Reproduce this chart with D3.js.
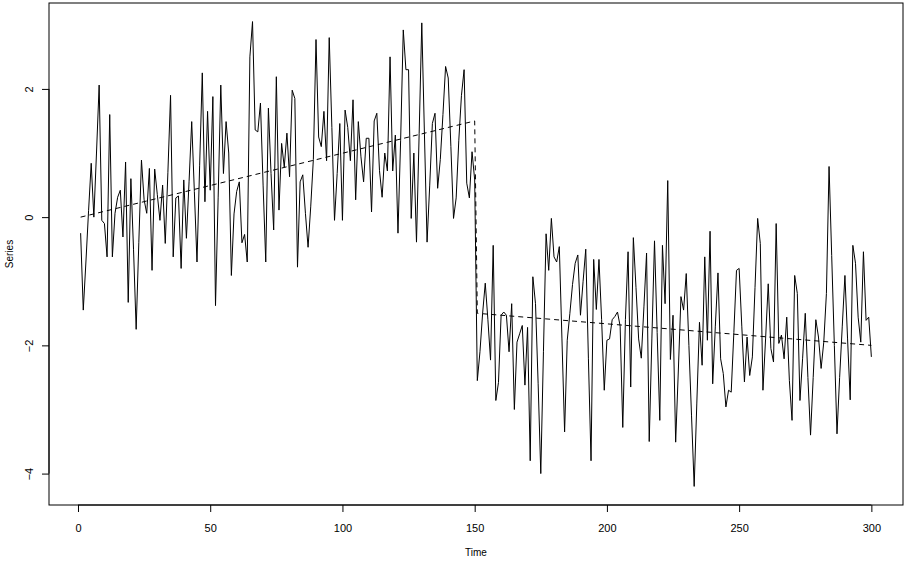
<!DOCTYPE html>
<html>
<head>
<meta charset="utf-8">
<script src="https://cdn.jsdelivr.net/npm/d3@7"></script>
<style>
  body { margin: 0; background: #fff; }
  svg { display: block; font-family: "Liberation Sans", Arial, sans-serif; }
</style>
</head>
<body>
<div id="chart"></div>
<script>
// series values, time = 1..300
const seriesValues = [
  -0.25, -1.45, -0.7, 0.1, 0.84, 0.0, 1.0, 2.06, -0.05, -0.1,
  -0.62, 1.6, -0.62, 0.06, 0.31, 0.42, -0.31, 0.86, -1.33, 0.6,
  -0.5, -1.75, -0.4, 0.89, 0.27, 0.06, 0.76, -0.83, 0.75, 0.35,
  -0.05, 0.5, -0.41, 0.7, 1.9, -0.62, 0.3, 0.33, -0.8, 0.58,
  -0.33, 0.55, 1.49, 0.4, -0.7, 0.8, 2.25, 0.24, 1.65, 0.42,
  1.88, -1.38, 0.3, 2.06, 0.68, 1.49, 1.0, -0.91, 0.05, 0.4,
  0.55, -0.4, -0.27, -0.7, 2.5, 3.05, 1.36, 1.33, 1.78, 0.5,
  -0.7, 1.7, 0.68, -0.2, 2.19, 0.11, 1.15, 0.78, 1.31, 0.63,
  1.98, 1.85, -0.78, 0.55, 0.66, 0.06, -0.47, 0.16, 0.9, 2.77,
  1.25, 1.1, 1.65, 0.88, 2.8, 1.4, -0.05, 0.68, 1.46, -0.05,
  1.67, 1.4, 0.88, 1.83, 0.27, 1.49, 0.94, 0.55, 1.23, 1.23,
  0.08, 1.5, 1.62, 0.73, 0.31, 1.0, 0.72, 2.5, 0.72, 1.28,
  -0.25, 1.2, 2.92, 2.3, 2.3, -0.02, 1.0, -0.39, 1.3, 3.03,
  1.3, -0.39, 0.5, 1.46, 1.62, 0.45, 0.9, 1.6, 2.35, 2.17,
  1.1, -0.02, 0.3, 1.2, 1.9, 2.3, 0.53, 0.3, 1.02, 0.58,
  -2.55, -2.1, -1.5, -1.03, -1.6, -2.23, -0.44, -2.86, -2.58, -1.53,
  -1.48, -1.53, -2.1, -1.35, -3.0, -1.95, -1.82, -1.69, -2.62, -1.72,
  -3.8, -0.93, -1.35, -2.6, -4.0, -2.1, -0.26, -0.83, -0.02, -0.62,
  -0.7, -0.46, -1.9, -3.35, -1.92, -1.5, -1.05, -0.72, -0.59, -1.53,
  -1.0, -0.5, -2.2, -3.8, -0.66, -1.44, -0.66, -1.6, -2.7, -1.92,
  -1.9, -1.6, -1.55, -1.48, -1.7, -3.28, -1.6, -0.54, -2.65, -0.32,
  -1.1, -1.9, -2.2, -1.4, -0.56, -3.5, -1.9, -0.37, -1.8, -3.17,
  -0.44, -1.35, 0.57, -2.22, -1.53, -3.51, -2.4, -1.24, -1.45, -0.88,
  -2.0, -3.1, -4.2, -2.9, -1.64, -2.31, -0.62, -1.92, -0.22, -2.6,
  -1.7, -0.87, -2.21, -2.44, -2.96, -2.7, -2.73, -1.8, -0.83, -0.8,
  -1.7, -2.57, -1.87, -2.47, -2.18, -1.1, -0.02, -0.41, -2.7, -1.9,
  -1.04, -2.05, -2.26, -0.1, -1.97, -1.84, -2.21, -1.56, -2.55, -3.17,
  -0.91, -1.19, -2.86, -2.2, -1.5, -2.5, -3.4, -2.5, -1.6, -1.87,
  -2.36, -1.95, -1.19, 0.79, -0.6, -2.0, -3.38, -2.5, -1.7, -0.91,
  -1.9, -2.85, -0.44, -0.72, -1.56, -1.95, -0.54, -1.61, -1.56, -2.18
];

// fitted trend (dashed): two linear pieces with a break after time 150
const trendTime = [1, 150, 151, 300];
const trendValue = [0.0, 1.5, -1.5, -2.0];

const xTicks = [0, 50, 100, 150, 200, 250, 300];
const yTicks = [-4, -2, 0, 2];

const W = 904, H = 563;
const box = { left: 49, right: 903, top: 3, bottom: 505 };

const series = seriesValues.map((v, i) => ({ t: i + 1, v }));
const trend = trendTime.map((t, i) => ({ t, v: trendValue[i] }));

// R style 4% range extension
const tExt = d3.extent(series, d => d.t);
const vExt = d3.extent(series, d => d.v);
const tPad = (tExt[1] - tExt[0]) * 0.04;
const vPad = (vExt[1] - vExt[0]) * 0.04;

const x = d3.scaleLinear()
  .domain([tExt[0] - tPad, tExt[1] + tPad])
  .range([box.left, box.right]);
const y = d3.scaleLinear()
  .domain([vExt[0] - vPad, vExt[1] + vPad])
  .range([box.bottom, box.top]);

const svg = d3.select('#chart').append('svg')
  .attr('width', W)
  .attr('height', H);

// X axis
const xAxis = svg.append('g')
  .attr('transform', `translate(0,${box.bottom})`)
  .call(d3.axisBottom(x).tickValues(xTicks).tickSize(7).tickPadding(12).tickSizeOuter(0));
xAxis.select('.domain')
  .attr('d', `M${x(xTicks[0])},0H${x(xTicks[xTicks.length - 1])}`);
xAxis.selectAll('text').style('font-size', '11px').attr('fill', '#000');

// Y axis, labels parallel to the axis
const yAxis = svg.append('g')
  .attr('transform', `translate(${box.left},0)`)
  .call(d3.axisLeft(y).tickValues(yTicks).tickSize(7).tickSizeOuter(0));
yAxis.select('.domain')
  .attr('d', `M0,${y(yTicks[0])}V${y(yTicks[yTicks.length - 1])}`);
yAxis.selectAll('text')
  .style('font-size', '11px')
  .attr('fill', '#000')
  .attr('text-anchor', 'middle')
  .attr('dy', null)
  .attr('x', null)
  .attr('transform', 'translate(-16,0) rotate(-90)');

svg.selectAll('.domain, .tick line').attr('stroke', '#000');

// plot frame
svg.append('rect')
  .attr('x', box.left)
  .attr('y', box.top)
  .attr('width', box.right - box.left)
  .attr('height', box.bottom - box.top)
  .attr('fill', 'none')
  .attr('stroke', '#000');

// series line
svg.append('path')
  .datum(series)
  .attr('fill', 'none')
  .attr('stroke', '#000')
  .attr('stroke-width', 1)
  .attr('d', d3.line().x(d => x(d.t)).y(d => y(d.v)));

// trend line
svg.append('path')
  .datum(trend)
  .attr('fill', 'none')
  .attr('stroke', '#000')
  .attr('stroke-width', 1)
  .attr('stroke-dasharray', '5,4')
  .attr('d', d3.line().x(d => x(d.t)).y(d => y(d.v)));

// axis titles
svg.append('text')
  .attr('x', (box.left + box.right) / 2)
  .attr('y', 556)
  .attr('text-anchor', 'middle')
  .style('font-size', '10px')
  .text('Time');

svg.append('text')
  .attr('transform', `translate(13,${(box.top + box.bottom) / 2}) rotate(-90)`)
  .attr('text-anchor', 'middle')
  .style('font-size', '10px')
  .text('Series');
</script>
</body>
</html>
